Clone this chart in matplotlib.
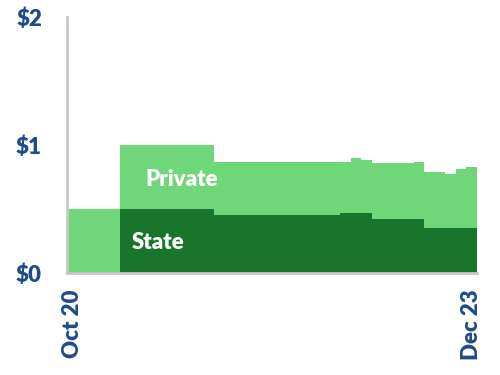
import numpy as np
import matplotlib
matplotlib.use("Agg")
import matplotlib.pyplot as plt

# monthly values, Oct 20 .. Dec 23 (39 months), in $
state = [0.0] * 5 + [0.5] * 9 + [0.45] * 12 + [0.465] * 3 + [0.42] * 5 + [0.35] * 5
total = ([0.5] * 5 + [1.0] * 9 + [0.87] * 13 + [0.90, 0.885] + [0.86] * 4 + [0.87]
         + [0.79, 0.79, 0.775, 0.81, 0.825])
private = [t - s for t, s in zip(total, state)]
x_labels = ["Oct 20", "Dec 23"]

light = "#6FD67A"
dark = "#18752B"
blue = "#1F4B8A"

fig = plt.figure(figsize=(5, 3.75), dpi=100)
ax = fig.add_axes([0.134, 0.272, 0.82, 0.683])

n = len(state)
xs = np.arange(n + 1)
s = np.append(state, state[-1])
t = np.append(total, total[-1])
ax.fill_between(xs, 0, s, step="post", color=dark, lw=0)
ax.fill_between(xs, s, t, step="post", color=light, lw=0)

ax.text(10.9, 0.73, "Private", color="white", fontsize=16, fontweight="heavy",
        family="Lato", ha="center", va="center")
ax.text(8.7, 0.236, "State", color="white", fontsize=16, fontweight="heavy",
        family="Lato", ha="center", va="center")

ax.set_xlim(0, n)
ax.set_ylim(0, 2)
ax.set_yticks([0, 1, 2])
ax.set_yticklabels(["$0", "$1", "$2"])
ax.set_xticks([0.5, n - 0.5])
ax.set_xticklabels(x_labels, rotation=90)
ax.tick_params(length=0)
ax.tick_params(axis="y", pad=18)
ax.tick_params(axis="x", pad=12)
for lab in ax.get_xticklabels() + ax.get_yticklabels():
    lab.set_fontsize(16)
    lab.set_fontweight("heavy")
    lab.set_family("Lato")
    lab.set_color(blue)

for sp in ["top", "right"]:
    ax.spines[sp].set_visible(False)
for sp in ["left", "bottom"]:
    ax.spines[sp].set_color("#C8C8C8")
    ax.spines[sp].set_linewidth(2)

fig.savefig("out.png", dpi=100)
